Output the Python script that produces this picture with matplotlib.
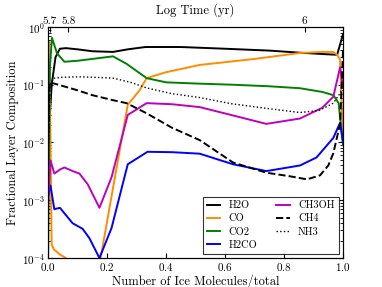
import numpy as np
import matplotlib
matplotlib.use('Agg')
import matplotlib.pyplot as plt

plt.rcParams['font.family'] = 'serif'
plt.rcParams['font.serif'] = ['cmr10', 'DejaVu Serif']
plt.rcParams['mathtext.fontset'] = 'cm'
plt.rcParams['axes.formatter.use_mathtext'] = True
plt.rcParams['xtick.direction'] = 'in'
plt.rcParams['ytick.direction'] = 'in'
plt.rcParams['ytick.right'] = True
plt.rcParams['axes.unicode_minus'] = False

# Lecture des courbes
f_h2o = [0, 0.004, 0.012, 0.025, 0.04, 0.06, 0.1, 0.15, 0.22, 0.27, 0.33, 0.45, 0.6, 0.75, 0.85, 0.93, 0.98, 1.0]
h2o = [0.005, 0.02, 0.1, 0.3, 0.42, 0.43, 0.41, 0.38, 0.37, 0.41, 0.45, 0.45, 0.42, 0.39, 0.36, 0.34, 0.33, 0.75]

f_co = [0, 0.004, 0.008, 0.012, 0.02, 0.04, 0.06, 0.1, 0.14, 0.178, 0.27, 0.31, 0.334, 0.4, 0.514, 0.7, 0.854, 0.93, 0.967, 0.98, 0.99, 1.0]
co = [0.3, 0.55, 0.01, 1.7e-4, 1.4e-4, 1.15e-4, 1e-4, 6e-5, 6e-5, 1e-4, 0.045, 0.08, 0.13, 0.165, 0.22, 0.28, 0.355, 0.37, 0.37, 0.33, 0.27, 0.01]

f_co2 = [0, 0.006, 0.013, 0.03, 0.055, 0.1, 0.15, 0.22, 0.266, 0.334, 0.4, 0.5, 0.627, 0.75, 0.854, 0.93, 0.967, 0.985, 1.0]
co2 = [1.2e-4, 0.2, 0.65, 0.35, 0.25, 0.26, 0.28, 0.31, 0.23, 0.13, 0.11, 0.105, 0.1, 0.094, 0.087, 0.075, 0.066, 0.048, 0.009]

f_h2co = [0, 0.008, 0.021, 0.04, 0.083, 0.117, 0.14, 0.174, 0.215, 0.27, 0.337, 0.42, 0.514, 0.627, 0.74, 0.854, 0.91, 0.967, 0.99, 1.0]
h2co = [1.2e-3, 0.0018, 7e-4, 7.4e-4, 4e-4, 3.2e-4, 2.2e-4, 1e-4, 3.3e-4, 0.0042, 0.0069, 0.0068, 0.0064, 0.0042, 0.0032, 0.004, 0.0055, 0.012, 0.022, 0.01]

f_ch3oh = [0, 0.008, 0.021, 0.04, 0.055, 0.083, 0.106, 0.134, 0.174, 0.215, 0.27, 0.334, 0.42, 0.514, 0.62, 0.74, 0.854, 0.93, 0.967, 0.99, 1.0]
ch3oh = [9e-4, 0.0049, 0.0029, 0.0034, 0.0037, 0.0032, 0.0029, 0.0019, 7.4e-4, 0.0025, 0.03, 0.048, 0.046, 0.041, 0.03, 0.021, 0.026, 0.04, 0.062, 0.2, 0.09]

f_ch4 = [0, 0.005, 0.02, 0.05, 0.1, 0.15, 0.22, 0.266, 0.334, 0.42, 0.514, 0.627, 0.74, 0.82, 0.878, 0.922, 0.95, 0.967, 0.99, 1.0]
ch4 = [0.01, 0.11, 0.105, 0.095, 0.08, 0.066, 0.054, 0.048, 0.032, 0.018, 0.011, 0.0045, 0.003, 0.0026, 0.0023, 0.0027, 0.004, 0.0065, 0.021, 0.4]

f_nh3 = [0, 0.006, 0.02, 0.05, 0.1, 0.15, 0.22, 0.28, 0.334, 0.42, 0.514, 0.62, 0.74, 0.854, 0.92, 0.967, 0.99, 1.0]
nh3 = [0.004, 0.1, 0.13, 0.135, 0.137, 0.135, 0.13, 0.11, 0.088, 0.07, 0.06, 0.047, 0.039, 0.033, 0.036, 0.048, 0.071, 0.1]

# Axe du haut : temps
temps_labels = ['5.7', '5.8', '6']
temps_pos = [0.005, 0.069, 0.87]

fig = plt.figure(figsize=(3.82, 2.87), dpi=100)
ax = fig.add_axes([0.126, 0.101, 0.772, 0.805])

lw = 1.4
ax.plot(f_h2o, h2o, color='k', lw=lw, label='H2O')
ax.plot(f_co, co, color='darkorange', lw=lw, label='CO')
ax.plot(f_co2, co2, color='green', lw=lw, label='CO2')
ax.plot(f_h2co, h2co, color='blue', lw=lw, label='H2CO')
ax.plot(f_ch3oh, ch3oh, color='m', lw=lw, label='CH3OH')
ax.plot(f_ch4, ch4, color='k', ls='--', lw=lw, label='CH4')
ax.plot(f_nh3, nh3, color='k', ls=':', lw=1.0, label='NH3')

ax.set_yscale('log')
ax.set_xlim(0, 1)
ax.set_ylim(1e-4, 1)
ax.set_xlabel('Number of Ice Molecules/total', fontsize=9, labelpad=1)
ax.set_ylabel('Fractional Layer Composition', fontsize=9, labelpad=2)
ax.tick_params(labelsize=8, pad=2)

ax2 = ax.twiny()
ax2.set_xlim(0, 1)
ax2.set_xticks(temps_pos)
ax2.set_xticklabels(temps_labels)
ax2.tick_params(labelsize=8, direction='in', pad=1)
ax2.set_xlabel('Log Time (yr)', fontsize=9, labelpad=2)

leg = ax.legend(loc='lower right', ncol=2, fontsize=7.5, handlelength=1.3,
                frameon=True, fancybox=False, borderaxespad=0.4, columnspacing=1.8,
                labelspacing=0.35)
leg.get_frame().set_edgecolor('k')
leg.get_frame().set_linewidth(0.8)

fig.savefig('out.png', dpi=100)
